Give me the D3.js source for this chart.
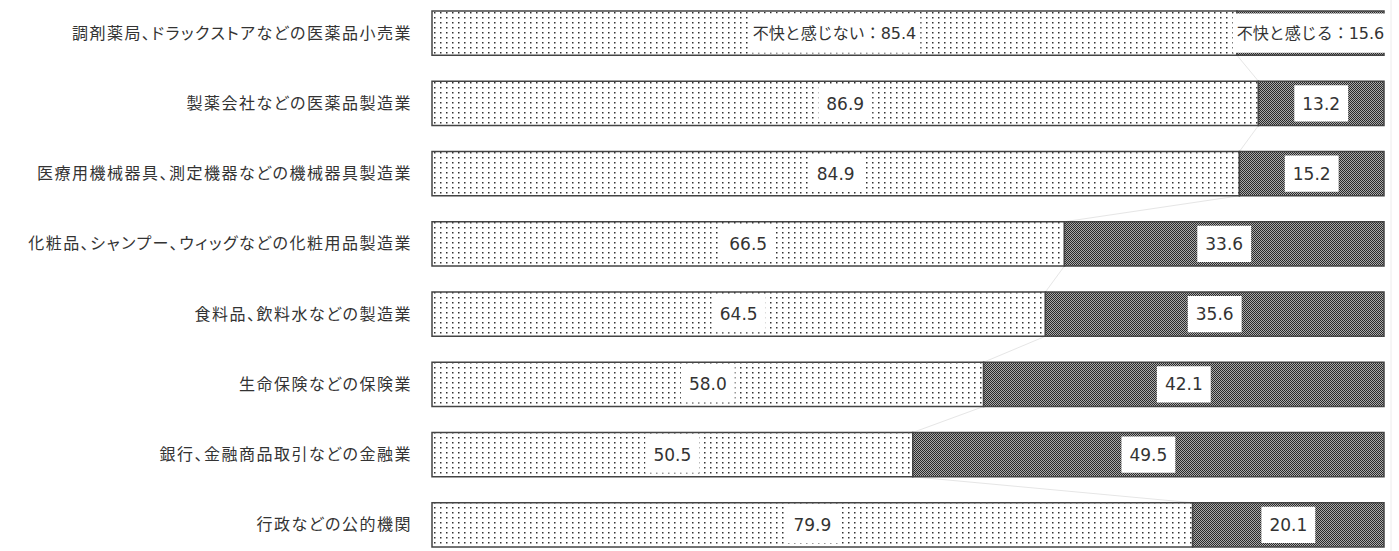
<!DOCTYPE html>
<html lang="ja">
<head>
    <meta charset="UTF-8">
    <title>不快と感じるか</title>
    <script src="https://cdn.jsdelivr.net/npm/d3@7"></script>
    <style>
        body {
            margin: 0;
            background: #fff;
        }
        .cat-label {
            font-family: "Noto Sans CJK JP", sans-serif;
            font-size: 16px;
            letter-spacing: 1.5px;
            font-feature-settings: "palt";
            fill: #333;
        }
        .val-label {
            font-family: "DejaVu Sans", "Noto Sans CJK JP", sans-serif;
            font-size: 17px;
            fill: #333;
        }
        .val-label.first {
            font-size: 16px;
        }
    </style>
</head>
<body>
    <svg width="1399" height="551"></svg>
    <script>
        // data (percent)
        const categories = [
            "調剤薬局、ドラックストアなどの医薬品小売業",
            "製薬会社などの医薬品製造業",
            "医療用機械器具、測定機器などの機械器具製造業",
            "化粧品、シャンプー、ウィッグなどの化粧用品製造業",
            "食料品、飲料水などの製造業",
            "生命保険などの保険業",
            "銀行、金融商品取引などの金融業",
            "行政などの公的機関"
        ];
        const seriesNames = ["不快と感じない", "不快と感じる"];
        const notUnpleasant = [85.4, 86.9, 84.9, 66.5, 64.5, 58.0, 50.5, 79.9];
        const unpleasant = [15.6, 13.2, 15.2, 33.6, 35.6, 42.1, 49.5, 20.1];

        const margin = {top: 11, right: 15, bottom: 4, left: 432};
        const W = 1399, H = 551;

        const svg = d3.select("svg");

        // patterns: fine dots for first series, dense checker for second
        const defs = svg.append("defs");
        const dots = defs.append("pattern")
            .attr("id", "dots")
            .attr("patternUnits", "userSpaceOnUse")
            .attr("width", 6).attr("height", 5);
        dots.append("rect").attr("width", 6).attr("height", 5).attr("fill", "#fff");
        dots.append("rect").attr("x", 2).attr("y", 2).attr("width", 1.5).attr("height", 1.5).attr("fill", "#333");

        const checker = defs.append("pattern")
            .attr("id", "checker")
            .attr("patternUnits", "userSpaceOnUse")
            .attr("width", 2).attr("height", 2);
        checker.append("rect").attr("width", 2).attr("height", 2).attr("fill", "#aaa");
        checker.append("rect").attr("x", 0).attr("y", 0).attr("width", 1).attr("height", 1).attr("fill", "#2a2a2a");
        checker.append("rect").attr("x", 1).attr("y", 1).attr("width", 1).attr("height", 1).attr("fill", "#2a2a2a");

        const rows = categories.map((c, i) => ({
            cat: c,
            [seriesNames[0]]: notUnpleasant[i],
            [seriesNames[1]]: unpleasant[i]
        }));

        // 100% stacked, like the original
        const stacked = d3.stack()
            .keys(seriesNames)
            .offset(d3.stackOffsetExpand)(rows);

        const x = d3.scaleLinear()
            .domain([0, 1])
            .range([margin.left, 1384]);

        const y = d3.scaleBand()
            .domain(categories)
            .range([margin.top, 547])
            .paddingInner(0.37);

        const fills = ["url(#dots)", "url(#checker)"];

        // faint series lines between bars
        const seriesLines = [];
        for (let i = 0; i < categories.length - 1; i++) {
            seriesLines.push({
                x1: x(stacked[0][i][1]), y1: y(categories[i]) + y.bandwidth(),
                x2: x(stacked[0][i + 1][1]), y2: y(categories[i + 1])
            });
        }
        svg.append("g").selectAll("line")
            .data(seriesLines)
            .enter().append("line")
            .attr("x1", d => d.x1).attr("y1", d => d.y1)
            .attr("x2", d => d.x2).attr("y2", d => d.y2)
            .attr("stroke", "#e6e6e6")
            .attr("stroke-width", 1);

        // faint 100% line on the right
        svg.append("line")
            .attr("x1", 1391).attr("x2", 1391)
            .attr("y1", 0).attr("y2", H)
            .attr("stroke", "#ececec");

        // bars
        const layer = svg.append("g").selectAll("g")
            .data(stacked)
            .enter().append("g")
            .attr("fill", (d, i) => fills[i]);

        layer.selectAll("rect")
            .data(d => d.map(p => ({p0: p[0], p1: p[1], cat: p.data.cat})))
            .enter().append("rect")
            .attr("x", d => x(d.p0))
            .attr("y", d => y(d.cat))
            .attr("width", d => x(d.p1) - x(d.p0))
            .attr("height", y.bandwidth())
            .attr("stroke", "#444")
            .attr("stroke-width", 1.5);

        // value labels on white boxes
        const labels = [];
        stacked.forEach((s, si) => {
            s.forEach((p, ri) => {
                const v = si === 0 ? notUnpleasant[ri] : unpleasant[ri];
                labels.push({
                    text: (ri === 0 ? seriesNames[si] + "：" : "") + v.toFixed(1),
                    cx: x((p[0] + p[1]) / 2),
                    cy: y(categories[ri]) + y.bandwidth() / 2,
                    first: ri === 0
                });
            });
        });

        const lab = svg.append("g").selectAll("g")
            .data(labels)
            .enter().append("g")
            .attr("transform", d => `translate(${d.cx},${d.cy})`);

        lab.append("rect").attr("fill", "#fff");
        lab.append("text")
            .attr("class", d => d.first ? "val-label first" : "val-label")
            .attr("text-anchor", "middle")
            .attr("dy", "0.36em")
            .text(d => d.text);

        lab.each(function(d) {
            const g = d3.select(this);
            const bb = g.select("text").node().getBBox();
            const h = d.first ? y.bandwidth() - 5 : y.bandwidth() - 8;
            const pad = d.first ? 4 : 8;
            g.select("rect")
                .attr("x", bb.x - pad)
                .attr("y", -h / 2)
                .attr("width", bb.width + 2 * pad)
                .attr("height", h);
        });

        // category labels
        svg.append("g").selectAll("text")
            .data(categories)
            .enter().append("text")
            .attr("class", "cat-label")
            .attr("x", 412)
            .attr("y", d => y(d) + y.bandwidth() / 2)
            .attr("dy", "0.35em")
            .attr("text-anchor", "end")
            .text(d => d);
    </script>
</body>
</html>
